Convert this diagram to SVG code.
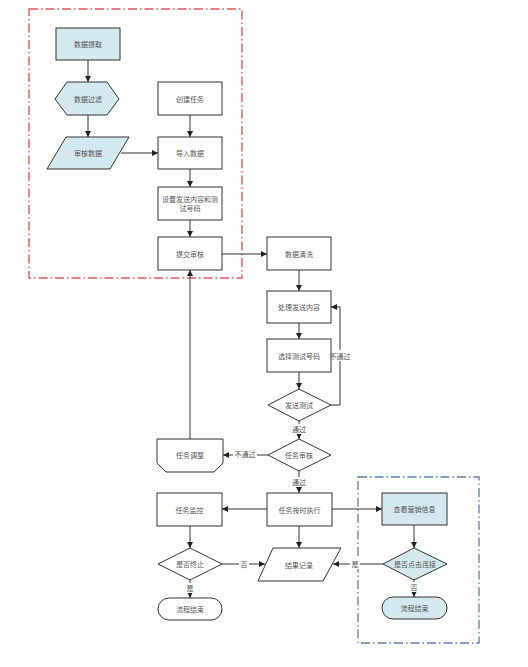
<svg xmlns="http://www.w3.org/2000/svg" width="528" height="667" viewBox="0 0 528 667">
<style>
.n{fill:#fff;stroke:#333;stroke-width:1}
.b{fill:#d3e9ef;stroke:#333;stroke-width:1}
.t{font-family:"Noto Sans CJK SC","Liberation Sans",sans-serif;font-size:7px;fill:#555;text-anchor:middle;dominant-baseline:central}
.c{fill:none;stroke:#333;stroke-width:1;marker-end:url(#ah)}
.lb{font-family:"Noto Sans CJK SC","Liberation Sans",sans-serif;font-size:7px;fill:#555;text-anchor:middle;dominant-baseline:central}
</style>
<defs>
<marker id="ah" viewBox="0 0 6 6" refX="6" refY="3" markerWidth="6" markerHeight="6" orient="auto" markerUnits="userSpaceOnUse">
<path d="M0,0 L6,3 L0,6 z" fill="#222"/>
</marker>
</defs>
<rect width="528" height="667" fill="#fff"/>
<g id="groups">
<rect x="29" y="9" width="213" height="269" fill="none" stroke="#e05a5a" stroke-width="1.4" stroke-dasharray="9,3,1.5,3"/>
<rect x="358" y="477" width="121" height="166" fill="none" stroke="#5f7fae" stroke-width="1.3" stroke-dasharray="9,3,1.5,3"/>
</g>
<g id="connectors">
<path class="c" d="M88,60 V82"/>
<path class="c" d="M88,115 V137"/>
<path class="c" d="M121,153 H158"/>
<path class="c" d="M190,115 V137"/>
<path class="c" d="M190,169 V187"/>
<path class="c" d="M190,220 V237"/>
<path class="c" d="M222,254 H267"/>
<path class="c" d="M299,270 V291"/>
<path class="c" d="M299,323 V339"/>
<path class="c" d="M299,372 V389"/>
<path class="c" d="M331,405 H340 V307 H331"/>
<path class="c" d="M299,421 V439"/>
<path class="c" d="M268,455 H223"/>
<path class="c" d="M190,439 V270"/>
<path class="c" d="M299,471 V493"/>
<path class="c" d="M267,509 H222"/>
<path class="c" d="M332,509 H382"/>
<path class="c" d="M299,526 V548"/>
<path class="c" d="M190,526 V548"/>
<path class="c" d="M222,564 H265"/>
<path class="c" d="M190,580 V598"/>
<path class="c" d="M383,564 H333"/>
<path class="c" d="M414,525 V548"/>
<path class="c" d="M414,580 V597"/>
<rect x="331" y="350" width="18" height="11" fill="#fff"/>
<text class="lb" x="340" y="356">不通过</text>
<rect x="291" y="424" width="16" height="10" fill="#fff"/>
<text class="lb" x="299" y="429">通过</text>
<rect x="233" y="449" width="24" height="11" fill="#fff"/>
<text class="lb" x="245" y="454">不通过</text>
<rect x="291" y="477" width="16" height="10" fill="#fff"/>
<text class="lb" x="299" y="482">通过</text>
<rect x="239" y="559" width="10" height="10" fill="#fff"/>
<text class="lb" x="244" y="564">否</text>
<rect x="350" y="559" width="10" height="10" fill="#fff"/>
<text class="lb" x="355" y="564">是</text>
<rect x="185" y="583" width="10" height="10" fill="#fff"/>
<text class="lb" x="190" y="588">是</text>
<rect x="409" y="582" width="10" height="10" fill="#fff"/>
<text class="lb" x="414" y="587">否</text>
</g>
<g id="n1"><rect class="b" x="56" y="28" width="64" height="32"/><text class="t" x="88" y="44">数据提取</text></g>
<g id="n2"><polygon class="b" points="55,99 67,82 107,82 119,99 107,115 67,115"/><text class="t" x="88" y="99">数据过滤</text></g>
<g id="n3"><polygon class="b" points="66,137 129,137 110,169 47,169"/><text class="t" x="88" y="153">审核数据</text></g>
<g id="n4"><rect class="n" x="158" y="82" width="64" height="33"/><text class="t" x="190" y="98.5">创建任务</text></g>
<g id="n5"><rect class="n" x="158" y="137" width="64" height="32"/><text class="t" x="190" y="153">导入数据</text></g>
<g id="n6"><rect class="n" x="158" y="187" width="64" height="33"/><text class="t" x="190" y="199">设置发送内容和测</text><text class="t" x="190" y="208">试号码</text></g>
<g id="n7"><rect class="n" x="158" y="237" width="64" height="33"/><text class="t" x="190" y="253.5">提交审核</text></g>
<g id="n8"><rect class="n" x="267" y="237" width="64" height="33"/><text class="t" x="299" y="253.5">数据清洗</text></g>
<g id="n9"><rect class="n" x="267" y="291" width="64" height="32"/><text class="t" x="299" y="307">处理发送内容</text></g>
<g id="n10"><rect class="n" x="267" y="339" width="64" height="33"/><text class="t" x="299" y="355.5">选择测试号码</text></g>
<g id="n11"><polygon class="n" points="268,405 299,389 331,405 299,421"/><text class="t" x="299" y="405">发送测试</text></g>
<g id="n12"><polygon class="n" points="268,455 299,439 331,455 299,471"/><text class="t" x="299" y="455">任务审核</text></g>
<g id="n13"><polygon class="n" points="157,439 223,439 223,463 214,472 166,472 157,463"/><text class="t" x="190" y="455">任务调整</text></g>
<g id="n14"><rect class="n" x="267" y="493" width="65" height="33"/><text class="t" x="299.5" y="509.5">任务按时执行</text></g>
<g id="n15"><rect class="n" x="157" y="493" width="65" height="33"/><text class="t" x="189.5" y="509.5">任务监控</text></g>
<g id="n16"><polygon class="n" points="158,564 190,548 222,564 190,580"/><text class="t" x="190" y="564">是否终止</text></g>
<g id="n17"><polygon class="n" points="273,548 341,548 323,581 258,581"/><text class="t" x="299" y="564.5">结果记录</text></g>
<g id="n18"><rect class="n" x="158" y="598" width="64" height="22" rx="11"/><text class="t" x="190" y="609">流程结束</text></g>
<g id="n19"><rect class="b" x="382" y="493" width="65" height="32"/><text class="t" x="414.5" y="509">查看营销信息</text></g>
<g id="n20"><polygon class="b" points="383,564 414,548 447,564 414,580"/><text class="t" x="415" y="564">是否点击连接</text></g>
<g id="n21"><rect class="b" x="382" y="597" width="65" height="22" rx="11"/><text class="t" x="414.5" y="608">流程结束</text></g>
</svg>
